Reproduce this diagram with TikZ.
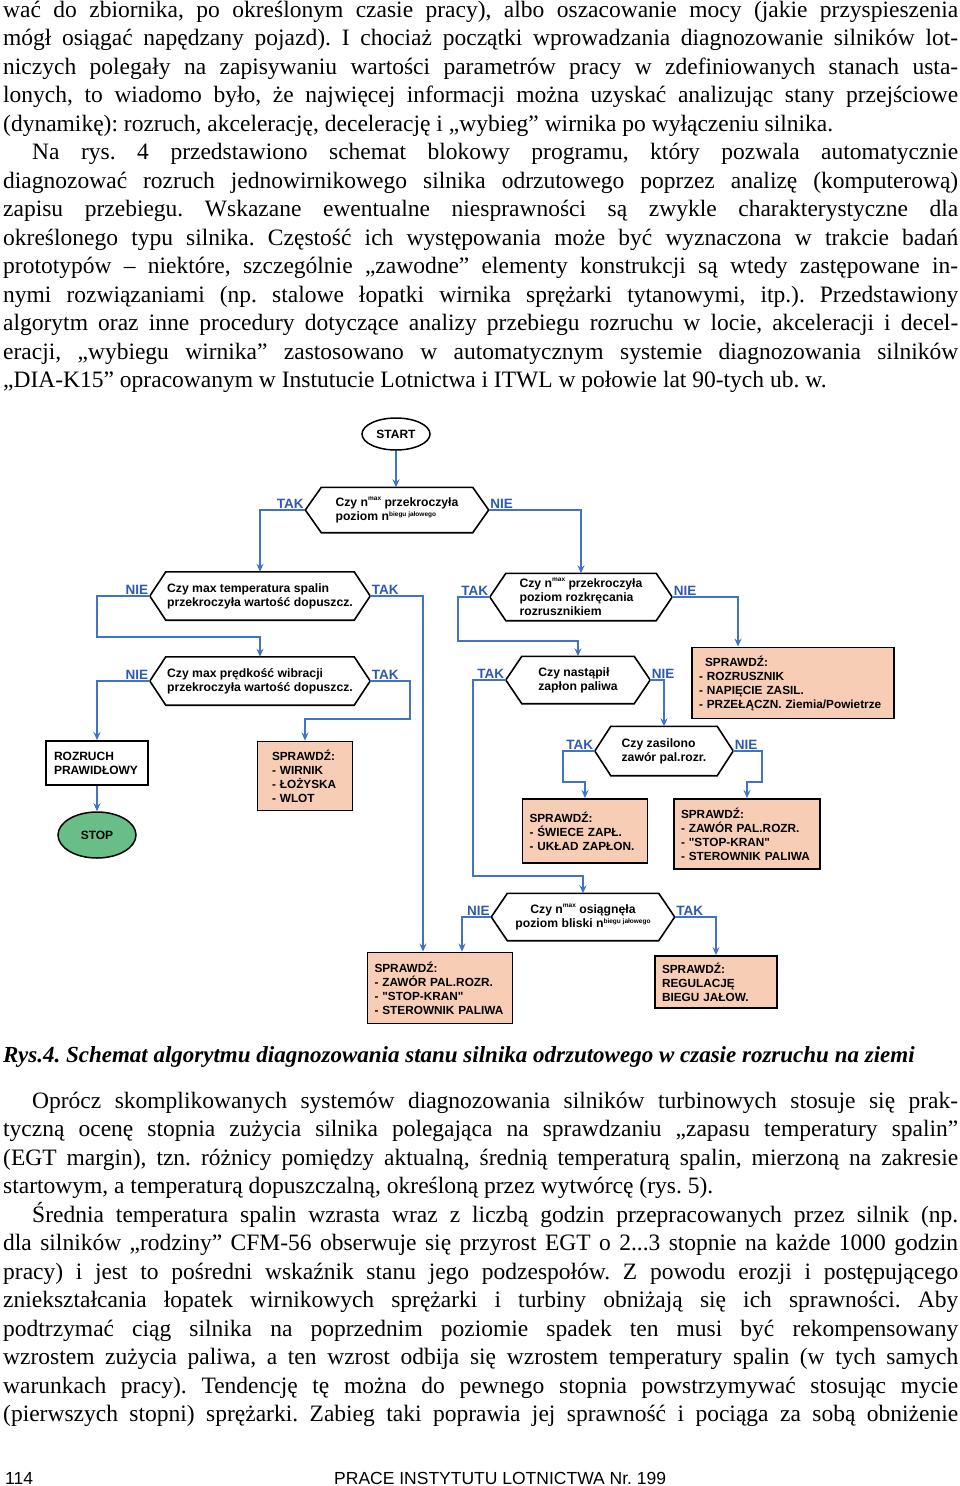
\documentclass[tikz,border=0pt]{standalone}
\usepackage{fontspec}
\setmainfont{Liberation Serif}
\setsansfont[Ligatures=TeXOff]{Liberation Sans}
\usetikzlibrary{shapes.geometric,arrows.meta}
\frenchspacing

\definecolor{flowblue}{RGB}{66,114,196}
\definecolor{answerblue}{RGB}{44,90,178}
\definecolor{checkfill}{RGB}{247,205,182}
\definecolor{stopgreen}{RGB}{104,190,134}

% small raised index, as in n^max
\newcommand{\idx}[2][4pt]{\raisebox{#1}{\fontsize{6.5}{7}\selectfont #2}}

\tikzset{
  bodytext/.style={text width=955pt, align=justify, inner sep=0pt,
    font=\fontsize{23.5}{28.5}\selectfont},
  caption/.style={inner sep=0pt, font=\bfseries\itshape\fontsize{23}{28}\selectfont},
  footer/.style={inner sep=0pt, font=\sffamily\fontsize{17.5}{20}\selectfont},
  decision/.style={minimum height=47pt, inner sep=0pt, align=left,
    font=\sffamily\bfseries\fontsize{12.2}{14}\selectfont},
  hexline/.style={draw=black, line width=1.6pt, line join=miter},
  terminal/.style={ellipse, draw=black, line width=1.5pt, inner sep=0pt,
    font=\sffamily\bfseries\fontsize{12}{14}\selectfont},
  checkbox/.style={rectangle, draw=black, line width=1.8pt, fill=checkfill,
    inner xsep=7pt, inner ysep=0pt, align=left,
    font=\sffamily\bfseries\fontsize{11.8}{14}\selectfont},
  okbox/.style={rectangle, draw=black, line width=1.8pt, fill=white,
    inner xsep=8pt, inner ysep=0pt, align=left, text width=86pt, minimum height=44pt,
    font=\sffamily\bfseries\fontsize{12}{14}\selectfont},
  flow/.style={draw=flowblue, line width=1.8pt, -{Stealth[length=8pt, width=7pt]}},
  answer/.style={inner sep=1.5pt, text=answerblue,
    font=\sffamily\bfseries\fontsize{13.5}{14}\selectfont},
}

\begin{document}
\begin{tikzpicture}[x=1pt, y=-1pt]
\fill[white] (0,0) rectangle (960,1486);
\useasboundingbox (0,0) rectangle (960,1486);

% Text above the figure
\node[bodytext, anchor=base west] (textabove) at (3,17) {\tolerance=10000 \hyphenpenalty=10000 \exhyphenpenalty=10000
wać do zbiornika, po określonym czasie pracy), albo oszacowanie mocy (jakie przyspieszenia\linebreak
mógł osiągać napędzany pojazd). I chociaż początki wprowadzania diagnozowanie silników lot-\linebreak
niczych polegały na zapisywaniu wartości parametrów pracy w zdefiniowanych stanach usta-\linebreak
lonych, to wiadomo było, że najwięcej informacji można uzyskać analizując stany przejściowe\linebreak
(dynamikę): rozruch, akcelerację, decelerację i „wybieg” wirnika po wyłączeniu silnika.\par
\hspace*{29pt}Na rys. 4 przedstawiono schemat blokowy programu, który pozwala automatycznie\linebreak
diagnozować rozruch jednowirnikowego silnika odrzutowego poprzez analizę (komputerową)\linebreak
zapisu przebiegu. Wskazane ewentualne niesprawności są zwykle charakterystyczne dla\linebreak
określonego typu silnika. Częstość ich występowania może być wyznaczona w trakcie badań\linebreak
prototypów – niektóre, szczególnie „zawodne” elementy konstrukcji są wtedy zastępowane in-\linebreak
nymi rozwiązaniami (np. stalowe łopatki wirnika sprężarki tytanowymi, itp.). Przedstawiony\linebreak
algorytm oraz inne procedury dotyczące analizy przebiegu rozruchu w locie, akceleracji i decel-\linebreak
eracji, „wybiegu wirnika” zastosowano w automatycznym systemie diagnozowania silników\linebreak
„DIA-K15” opracowanym w Instutucie Lotnictwa i ITWL w połowie lat 90-tych ub. w.\par};

% Flowchart
\node[terminal, minimum width=68pt, minimum height=32pt] (start) at (396,434) {START};

\node[decision, minimum width=183pt, minimum height=45pt] (d1) at (397,510)
  {Czy n\idx[6pt]{max} przekroczyła\\poziom n\idx{biegu jałowego}};
\node[decision, minimum width=220pt, minimum height=48pt] (d2) at (260,596)
  {Czy max temperatura spalin\\przekroczyła wartość dopuszcz.};
\node[decision, minimum width=220pt, minimum height=48pt] (d3) at (260,681)
  {Czy max prędkość wibracji\\przekroczyła wartość dopuszcz.};
\node[decision, minimum width=182pt] (d4) at (581,597)
  {Czy n\idx[6pt]{max} przekroczyła\\poziom rozkręcania\\rozrusznikiem};
\node[decision, minimum width=144pt] (d5) at (578,680)
  {Czy nastąpił\\zapłon paliwa};
\node[decision, minimum width=138pt, minimum height=49pt] (d6) at (664,751)
  {Czy zasilono\\zawór pal.rozr.};
\node[decision, minimum width=183pt, align=center] (d7) at (583,917)
  {Czy n\idx[6pt]{max} osiągnęła\\poziom bliski n\idx{biegu jałowego}};

\foreach \d in {d1,d2,d3,d4,d5,d6,d7}
  \draw[hexline] (\d.west) -- ([xshift=16pt]\d.north west) -- ([xshift=-16pt]\d.north east)
    -- (\d.east) -- ([xshift=-16pt]\d.south east) -- ([xshift=16pt]\d.south west) -- cycle;

\node[okbox] (ok) at (97,763) {ROZRUCH\\PRAWIDŁOWY};
\node[terminal, fill=stopgreen, minimum width=78pt, minimum height=46pt] (stop) at (97,835) {STOP};

\node[checkbox, text width=66pt, inner xsep=14.5pt, minimum height=69pt] (b2) at (305,776)
  {SPRAWDŹ:\\- WIRNIK\\- ŁOŻYSKA\\- WLOT};
\node[checkbox, text width=188pt, minimum height=71pt] (b3) at (793,683)
  {\hspace{6pt}SPRAWDŹ:\\- ROZRUSZNIK\\- NAPIĘCIE ZASIL.\\- PRZEŁĄCZN. Ziemia/Powietrze};
\node[checkbox, text width=111pt, minimum height=64pt] (b4) at (585,831)
  {SPRAWDŹ:\\- ŚWIECE ZAPŁ.\\- UKŁAD ZAPŁON.};
\node[checkbox, text width=132pt, minimum height=70pt] (b5) at (747,834)
  {SPRAWDŹ:\\- ZAWÓR PAL.ROZR.\\- "STOP-KRAN"\\- STEROWNIK PALIWA};
\node[checkbox, text width=131pt, minimum height=71pt] (b6) at (440,988)
  {SPRAWDŹ:\\- ZAWÓR PAL.ROZR.\\- "STOP-KRAN"\\- STEROWNIK PALIWA};
\node[checkbox, text width=108pt, minimum height=52pt] (b7) at (716,982)
  {SPRAWDŹ:\\REGULACJĘ\\BIEGU JAŁOW.};

% TAK / NIE
\node[answer, anchor=south east] (d1yes) at (d1.west) {TAK};
\node[answer, anchor=south west] (d1no) at (d1.east) {NIE};
\node[answer, anchor=south east] (d2no) at (d2.west) {NIE};
\node[answer, anchor=south west] (d2yes) at (d2.east) {TAK};
\node[answer, anchor=south east] (d3no) at (d3.west) {NIE};
\node[answer, anchor=south west] (d3yes) at (d3.east) {TAK};
\node[answer, anchor=south east] (d4yes) at (d4.west) {TAK};
\node[answer, anchor=south west] (d4no) at (d4.east) {NIE};
\node[answer, anchor=south east] (d5yes) at (d5.west) {TAK};
\node[answer, anchor=south west] (d5no) at (d5.east) {NIE};
\node[answer, anchor=south east] (d6yes) at (d6.west) {TAK};
\node[answer, anchor=south west] (d6no) at (d6.east) {NIE};
\node[answer, anchor=south east] (d7no) at (d7.west) {NIE};
\node[answer, anchor=south west] (d7yes) at (d7.east) {TAK};

% connectors
\draw[flow] (start.south) -- (start.south |- d1.north);
\draw[flow] (d1.west) -| (d2.north);
\draw[flow] (d1.east) -| (d4.north);
\draw[flow] (d2.west) -- ++(-53,0) |- ([yshift=20pt]d3.north) -- (d3.north);
\draw[flow] (d2.east) -| ([xshift=-17pt]b6.north);
\draw[flow] (d3.west) -| (ok.north);
\draw[flow] (d3.east) -- ++(40,0) |- ([yshift=22pt]b2.north) -- (b2.north);
\draw[flow] (ok.south) -- (stop.north);
\draw[flow] (d4.west) -- ++(-32,0) |- ([yshift=15pt]d5.north) -- (d5.north);
\draw[flow] (d4.east) -| ([xshift=-55pt]b3.north);
\draw[flow] (d5.west) -- ++(-33,0) |- ([yshift=17pt]d7.north) -- (d7.north);
\draw[flow] (d5.east) -| (d6.north);
\draw[flow] (d6.west) -- ++(-32,0) |- ([yshift=16pt]b4.north) -- (b4.north);
\draw[flow] (d6.east) -- ++(29,0) |- ([yshift=16pt]b5.north) -- (b5.north);
\draw[flow] (d7.west) -| ([xshift=22pt]b6.north);
\draw[flow] (d7.east) -| (b7.north);

% Caption
\node[caption, anchor=base west] (caption) at (3,1062)
  {Rys.4. Schemat algorytmu diagnozowania stanu silnika odrzutowego w czasie rozruchu na ziemi};

% Text below the figure
\node[bodytext, anchor=base west] (textbelow) at (3,1108) {\tolerance=10000 \hyphenpenalty=10000 \exhyphenpenalty=10000
\hspace*{29pt}Oprócz skomplikowanych systemów diagnozowania silników turbinowych stosuje się prak-\linebreak
tyczną ocenę stopnia zużycia silnika polegająca na sprawdzaniu „zapasu temperatury spalin”\linebreak
(EGT margin), tzn. różnicy pomiędzy aktualną, średnią temperaturą spalin, mierzoną na zakresie\linebreak
startowym, a temperaturą dopuszczalną, określoną przez wytwórcę (rys. 5).\par
\hspace*{29pt}Średnia temperatura spalin wzrasta wraz z liczbą godzin przepracowanych przez silnik (np.\linebreak
dla silników „rodziny” CFM-56 obserwuje się przyrost EGT o 2...3 stopnie na każde 1000 godzin\linebreak
pracy) i jest to pośredni wskaźnik stanu jego podzespołów. Z powodu erozji i postępującego\linebreak
zniekształcania łopatek wirnikowych sprężarki i turbiny obniżają się ich sprawności. Aby\linebreak
podtrzymać ciąg silnika na poprzednim poziomie spadek ten musi być rekompensowany\linebreak
wzrostem zużycia paliwa, a ten wzrost odbija się wzrostem temperatury spalin (w tych samych\linebreak
warunkach pracy). Tendencję tę można do pewnego stopnia powstrzymywać stosując mycie\linebreak
(pierwszych stopni) sprężarki. Zabieg taki poprawia jej sprawność i pociąga za sobą obniżenie\parfillskip=0pt\par};

% Footer
\node[footer, anchor=base west] (pagenum) at (5,1484) {114};
\node[footer, anchor=base west] (journal) at (334,1484) {PRACE INSTYTUTU LOTNICTWA Nr. 199};
\end{tikzpicture}
\end{document}
